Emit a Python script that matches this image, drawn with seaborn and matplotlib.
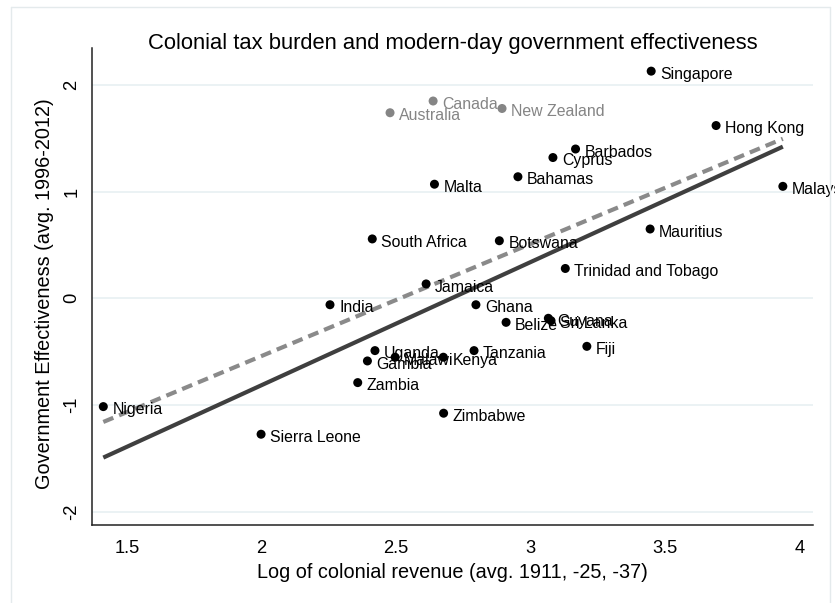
import matplotlib
matplotlib.use("Agg")
import matplotlib.pyplot as plt
import pandas as pd
import seaborn as sns
from matplotlib.lines import Line2D

# Country observations: log colonial revenue vs. government effectiveness
countries = [
    "Singapore", "Hong Kong", "Barbados", "Cyprus", "Bahamas", "Malta",
    "Malaysia", "South Africa", "Botswana", "Mauritius", "Trinidad and Tobago",
    "Jamaica", "India", "Ghana", "Belize", "Guyana", "Sri Lanka", "Fiji",
    "Tanzania", "Uganda", "Gambia", "Malawi", "Kenya", "Zambia", "Zimbabwe",
    "Nigeria", "Sierra Leone", "Canada", "Australia", "New Zealand",
]
log_revenue = [
    3.447, 3.688, 3.166, 3.082, 2.952, 2.642,
    3.936, 2.411, 2.883, 3.443, 3.128,
    2.611, 2.254, 2.796, 2.908, 3.065, 3.075, 3.208,
    2.789, 2.421, 2.393, 2.496, 2.675, 2.357, 2.676,
    1.412, 1.998, 2.637, 2.477, 2.893,
]
gov_effectiveness = [
    2.13, 1.62, 1.40, 1.32, 1.14, 1.07,
    1.05, 0.557, 0.54, 0.65, 0.28,
    0.135, -0.06, -0.06, -0.225, -0.187, -0.21, -0.45,
    -0.49, -0.49, -0.587, -0.552, -0.552, -0.79, -1.077,
    -1.015, -1.274, 1.85, 1.74, 1.78,
]
colony_type = ["Other"] * 27 + ["Settler"] * 3

# Linear fits over the observed revenue range
fit_x = [1.412, 3.936]
fit_without_settlers = [-1.493, 1.422]
fit_with_settlers = [-1.159, 1.496]

x_ticks = [1.5, 2, 2.5, 3, 3.5, 4]
x_tick_labels = ["1.5", "2", "2.5", "3", "3.5", "4"]
y_ticks = [-2, -1, 0, 1, 2]
y_tick_labels = ["-2", "-1", "0", "1", "2"]

df = pd.DataFrame({
    "country": countries,
    "x": log_revenue,
    "y": gov_effectiveness,
    "type": colony_type,
})
fits = pd.DataFrame({
    "x": fit_x + fit_x,
    "y": fit_without_settlers + fit_with_settlers,
    "fit": ["solid"] * 2 + ["dashed"] * 2,
})

sns.set_style("white")
plt.rcParams["font.family"] = ["Liberation Sans", "DejaVu Sans"]
plt.rcParams["text.color"] = "black"
plt.rcParams["axes.labelcolor"] = "black"

W, H = 835, 603
fig = plt.figure(figsize=(W / 100, H / 100), dpi=100)
fig.patch.set_facecolor("white")

# outer graph-region frame
frame_col = "#e4eaec"
fig.add_artist(Line2D([11 / W, 11 / W], [0, 1 - 7 / H], color=frame_col, lw=1.0))
fig.add_artist(Line2D([11 / W, 830 / W], [1 - 7 / H, 1 - 7 / H], color=frame_col, lw=1.0))
fig.add_artist(Line2D([830 / W, 830 / W], [0, 1 - 7 / H], color=frame_col, lw=1.0))

left, right, bottom, top = 92, 813, 525, 48
ax = fig.add_axes([left / W, 1 - bottom / H, (right - left) / W, (bottom - top) / H])
ax.set_facecolor("white")

ax.set_xlim(1.37, 4.048)
ax.set_ylim(-2.125, 2.347)

for t in y_ticks:
    ax.axhline(t, color="#e9f1f3", lw=1.3, zorder=0)

sns.lineplot(data=fits[fits.fit == "dashed"], x="x", y="y", ax=ax,
             color="#8a8a8a", lw=3.0, linestyle=(0, (2.6, 1.5)),
             zorder=2, legend=False)
sns.lineplot(data=fits[fits.fit == "solid"], x="x", y="y", ax=ax,
             color="#3f3f3f", lw=3.0, zorder=2, legend=False,
             solid_capstyle="butt")

palette = {"Other": "#000000", "Settler": "#858585"}
sns.scatterplot(data=df, x="x", y="y", hue="type", palette=palette, ax=ax,
                s=42, edgecolor="none", legend=False, zorder=3, clip_on=False)

for _, r in df.iterrows():
    ax.annotate(r["country"], (r["x"], r["y"]), xytext=(6.5, -5.5),
                textcoords="offset points", ha="left", va="baseline",
                fontsize=11.4, color=palette[r["type"]], zorder=4,
                annotation_clip=False)

ax.set_xticks(x_ticks)
ax.set_xticklabels(x_tick_labels)
ax.set_yticks(y_ticks)
ax.set_yticklabels(y_tick_labels, rotation=90, va="center")
ax.tick_params(axis="both", direction="out", length=4.5, width=1.0,
               color="#333333", labelsize=13.2, pad=4, labelcolor="black")
ax.tick_params(axis="x", pad=6)

for side in ["top", "right"]:
    ax.spines[side].set_visible(False)
for side in ["left", "bottom"]:
    ax.spines[side].set_color("#222222")
    ax.spines[side].set_linewidth(1.1)

ax.set_xlabel("Log of colonial revenue (avg. 1911, -25, -37)", fontsize=14.3)
ax.set_ylabel("Government Effectiveness (avg. 1996-2012)", fontsize=14.3)
ax.xaxis.label.set_va("center")
ax.yaxis.label.set_va("center")
ax.xaxis.set_label_coords(0.5, (bottom - 572) / (bottom - top))
ax.yaxis.set_label_coords((45 - left) / (right - left), (bottom - 294) / (bottom - top))

fig.text((left + right) / 2 / W, 1 - 44 / H,
         "Colonial tax burden and modern-day government effectiveness",
         ha="center", va="center", fontsize=15.8, color="black")

fig.savefig("out.png", dpi=100, facecolor="white")
